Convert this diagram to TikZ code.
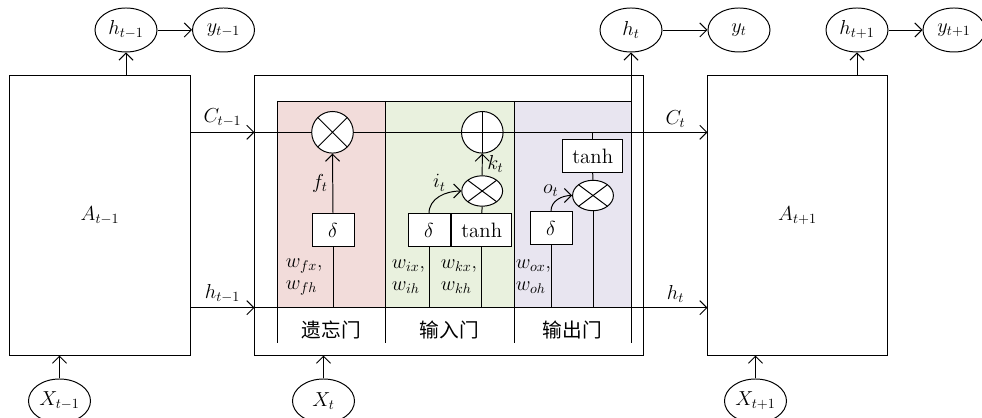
\documentclass[tikz,border=0pt]{standalone}
\usepackage{fontspec}
\newfontfamily\cjk{Noto Sans CJK SC}
\usetikzlibrary{arrows.meta, positioning, calc, shapes}

\definecolor{forgetbg}{RGB}{242,220,218}
\definecolor{inputbg}{RGB}{233,241,222}
\definecolor{outputbg}{RGB}{232,229,240}

\begin{document}
\begin{tikzpicture}[x=0.025cm, y=-0.025cm, line width=0.7pt,
  font=\fontsize{14}{15.6}\selectfont,
  cellbox/.style={draw, minimum height=6.975cm},
  state/.style={draw, ellipse, minimum width=1.55cm, minimum height=1.1cm, inner sep=0pt},
  gate/.style={draw, fill=white, minimum width=1.05cm, minimum height=0.82cm, inner sep=0pt},
  tanhbox/.style={gate, minimum width=1.5cm, font=\fontsize{14.8}{16}\selectfont},
  mulop/.style={draw, circle, fill=white, minimum size=1.04cm, inner sep=0pt,
    path picture={\draw (path picture bounding box.north west) -- (path picture bounding box.south east)
      (path picture bounding box.north east) -- (path picture bounding box.south west);}},
  mulsm/.style={mulop, ellipse, minimum width=1.02cm, minimum height=0.76cm},
  addop/.style={draw, circle, fill=white, minimum size=1.04cm, inner sep=0pt,
    path picture={\draw (path picture bounding box.north) -- (path picture bounding box.south)
      (path picture bounding box.west) -- (path picture bounding box.east);}},
  wlab/.style={anchor=west, align=left, inner sep=1pt},
  gatename/.style={font=\cjk\fontsize{14}{16}\selectfont},
  arrow/.style={-{Straight Barb[length=5pt, width=10pt]}}
]
\useasboundingbox (0,0) rectangle (982,418);

% cells
\node[cellbox, minimum width=4.5cm] (Aprev) at (100,215.5) {$A_{t-1}$};
\node[cellbox, minimum width=9.7cm] (cell) at (449,215.5) {};
\node[cellbox, minimum width=4.475cm] (Anext) at (797.5,215.5) {$A_{t+1}$};

% outputs and inputs
\node[state] (hprev) at (126,30) {$h_{t-1}$};
\node[state] (yprev) at (223.5,30) {$y_{t-1}$};
\node[state] (hcur) at (631,30) {$h_t$};
\node[state] (ycur) at (739,30) {$y_t$};
\node[state] (hnext) at (857,30) {$h_{t+1}$};
\node[state] (ynext) at (954,30) {$y_{t+1}$};
\node[state] (Xprev) at (59.5,401) {$X_{t-1}$};
\node[state] (Xcur) at (323.5,401) {$X_t$};
\node[state] (Xnext) at (755.5,401) {$X_{t+1}$};

\coordinate (cy) at (0,132.3);
\coordinate (hy) at (0,307.7);
\coordinate (gb) at (0,342.7);

% gate columns
\fill[forgetbg] (277.7,101) rectangle (385,307.7);
\fill[inputbg] (385,101) rectangle (514,307.7);
\fill[outputbg] (514,101) rectangle (631,307.7);
\draw (277.7,101) -- (631,101);
\foreach \x in {277.7,385,514,631}
  \draw (\x,101) -- (\x,342.7);
\node[gatename] (lforget) at (331.3,330) {遗忘门};
\node[gatename] (linput) at (449.5,330) {输入门};
\node[gatename] (loutput) at (572.5,330) {输出门};

% cell state and hidden state
\draw[arrow] (Aprev.east |- cy) -- node[above] {$C_{t-1}$} (cell.west |- cy);
\draw (cell.west |- cy) -- (cell.east |- cy);
\draw[arrow] (cell.east |- cy) -- node[above] {$C_t$} (Anext.west |- cy);
\draw[arrow] (Aprev.east |- hy) -- node[above] {$h_{t-1}$} (cell.west |- hy);
\draw (cell.west |- hy) -- (cell.east |- hy);
\draw[arrow] (cell.east |- hy) -- node[above] {$h_t$} (Anext.west |- hy);

% gate nodes
\node[mulop] (fmul) at (332.5,132.3) {};
\node[addop] (kadd) at (482.3,132.3) {};
\node[mulsm] (imul) at (482.2,191) {};
\node[mulsm] (omul) at (593,195.5) {};
\node[gate] (fdel) at (333,230.3) {$\delta$};
\node[gate] (idel) at (429,230.3) {$\delta$};
\node[tanhbox] (itanh) at (481.7,230.3) {$\tanh$};
\node[gate] (odel) at (551,228) {$\delta$};
\node[tanhbox] (otanh) at (592.7,156.3) {$\tanh$};

% forget gate
\draw (fdel |- hy) -- (fdel.south);
\draw[arrow] (fdel.north) -- node[left] {$f_t$} (fmul.south);
\node[wlab] (wf) at (284,277) {$w_{fx}$,\\$w_{fh}$};

% input gate
\draw (idel |- hy) -- (idel.south);
\draw (itanh |- hy) -- (itanh.south);
\draw (itanh.north) -- (imul.south);
\draw[arrow] (imul.north) -- node[right] {$k_t$} (kadd.south);
\draw[arrow] (idel.north) to[out=90, in=180] node[pos=0.7, above left, inner sep=1pt] {$i_t$} (imul.west);
\node[wlab] (wi) at (390,277) {$w_{ix}$,\\$w_{ih}$};
\node[wlab] (wk) at (439,277) {$w_{kx}$,\\$w_{kh}$};

% output gate
\draw (otanh |- cy) -- (otanh.north);
\draw (otanh.south) -- (omul.north);
\draw (omul.south) -- (omul |- hy);
\draw (odel |- hy) -- (odel.south);
\draw[arrow] (odel.north) to[out=90, in=180] node[pos=0.6, above left, inner sep=1pt] {$o_t$} (omul.west);
\node[wlab] (wo) at (514,277) {$w_{ox}$,\\$w_{oh}$};

% outputs
\draw[arrow] (hcur |- gb) -- (hcur);
\draw[arrow] (hcur) -- (ycur);
\draw[arrow] (hprev |- Aprev.north) -- (hprev);
\draw[arrow] (hprev) -- (yprev);
\draw[arrow] (hnext |- Anext.north) -- (hnext);
\draw[arrow] (hnext) -- (ynext);

% inputs
\draw[arrow] (Xprev) -- (Xprev |- Aprev.south);
\draw[arrow] (Xcur) -- (Xcur |- cell.south);
\draw[arrow] (Xnext) -- (Xnext |- Anext.south);
\end{tikzpicture}
\end{document}
